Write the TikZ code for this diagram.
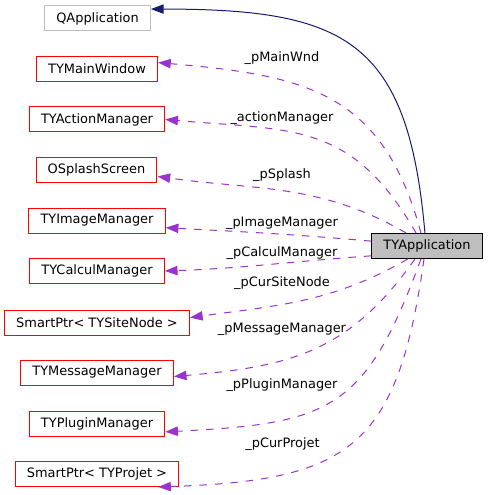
\documentclass[tikz,border=0pt]{standalone}
\usepackage{fontspec}
\setmainfont{DejaVu Sans}
\usetikzlibrary{arrows.meta}
\definecolor{membercol}{HTML}{9A32CD}
\definecolor{inheritcol}{HTML}{191970}
\definecolor{extgray}{HTML}{BFBFBF}
\begin{document}
\begin{tikzpicture}[x=0.75pt,y=0.75pt,
    font=\fontsize{9.7}{11.6}\selectfont,
    classbox/.style={draw=red,line width=0.75pt,minimum height=18.75pt,inner xsep=8.8pt,inner ysep=0pt},
    extbox/.style={classbox,draw=extgray},
    mainbox/.style={classbox,draw=black,fill=extgray},
    inherit/.style={draw=inheritcol,line width=0.75pt,-{Triangle[length=9.5pt,width=7pt]}},
    member/.style={draw=membercol,line width=0.75pt,dash pattern=on 5.6pt off 6pt,
      -{Triangle[length=9.5pt,width=7pt]}},
    fieldname/.style={anchor=base,inner sep=0pt}]
  \useasboundingbox (0,0) rectangle (488,-495);
  \path
    (97.5,-18.5) node[extbox] (qapp){QApplication}
    (97,-69) node[classbox] (mainwnd){TYMainWindow}
    (97,-119.5) node[classbox] (actionmgr){TYActionManager}
    (96.5,-170) node[classbox] (splash){OSplashScreen}
    (97,-220.5) node[classbox] (imagemgr){TYImageManager}
    (97,-271) node[classbox] (calculmgr){TYCalculManager}
    (97,-322.5) node[classbox] (sitenode){SmartPtr< TYSiteNode >}
    (97,-372.5) node[classbox] (messagemgr){TYMessageManager}
    (97,-423.5) node[classbox] (pluginmgr){TYPluginManager}
    (97,-474) node[classbox] (projet){SmartPtr< TYProjet >}
    (427,-246) node[mainbox] (app){TYApplication};
  \draw[inherit] (app.99) to[out=95,in=0,looseness=1.4] (qapp.10);
  \begin{scope}[member]
    \draw (app.115) to[out=105,in=-5,looseness=1.2] (mainwnd.6);
    \draw (app.130) to[out=120,in=-5,looseness=1.2] (actionmgr.east);
    \draw (app.148) to[out=150,in=-8] (splash.-6);
    \draw (app.175) to[out=175,in=-3] (imagemgr.-6);
    \draw (app.190) to[out=184,in=2] (calculmgr.east);
    \draw (app.214) to[out=210,in=8] (sitenode.3);
    \draw (app.227) to[out=235,in=5,looseness=1.1] (messagemgr.-3);
    \draw (app.245) to[out=250,in=3,looseness=1.35] (pluginmgr.-7);
    \draw (app.257) to[out=262,in=2,looseness=1.4] (projet.-12);
  \end{scope}
  \path
    (282,-61.7) node[fieldname] (lmainwnd){\_pMainWnd}
    (282,-121.7) node[fieldname] (laction){\_actionManager}
    (282,-179) node[fieldname] (lsplash){\_pSplash}
    (282,-226.7) node[fieldname] (limage){\_pImageManager}
    (282,-256.7) node[fieldname] (lcalcul){\_pCalculManager}
    (282,-286.7) node[fieldname] (lsite){\_pCurSiteNode}
    (282,-332.7) node[fieldname] (lmessage){\_pMessageManager}
    (282,-388.3) node[fieldname] (lplugin){\_pPluginManager}
    (282.5,-447.7) node[fieldname] (lprojet){\_pCurProjet};
\end{tikzpicture}
\end{document}
